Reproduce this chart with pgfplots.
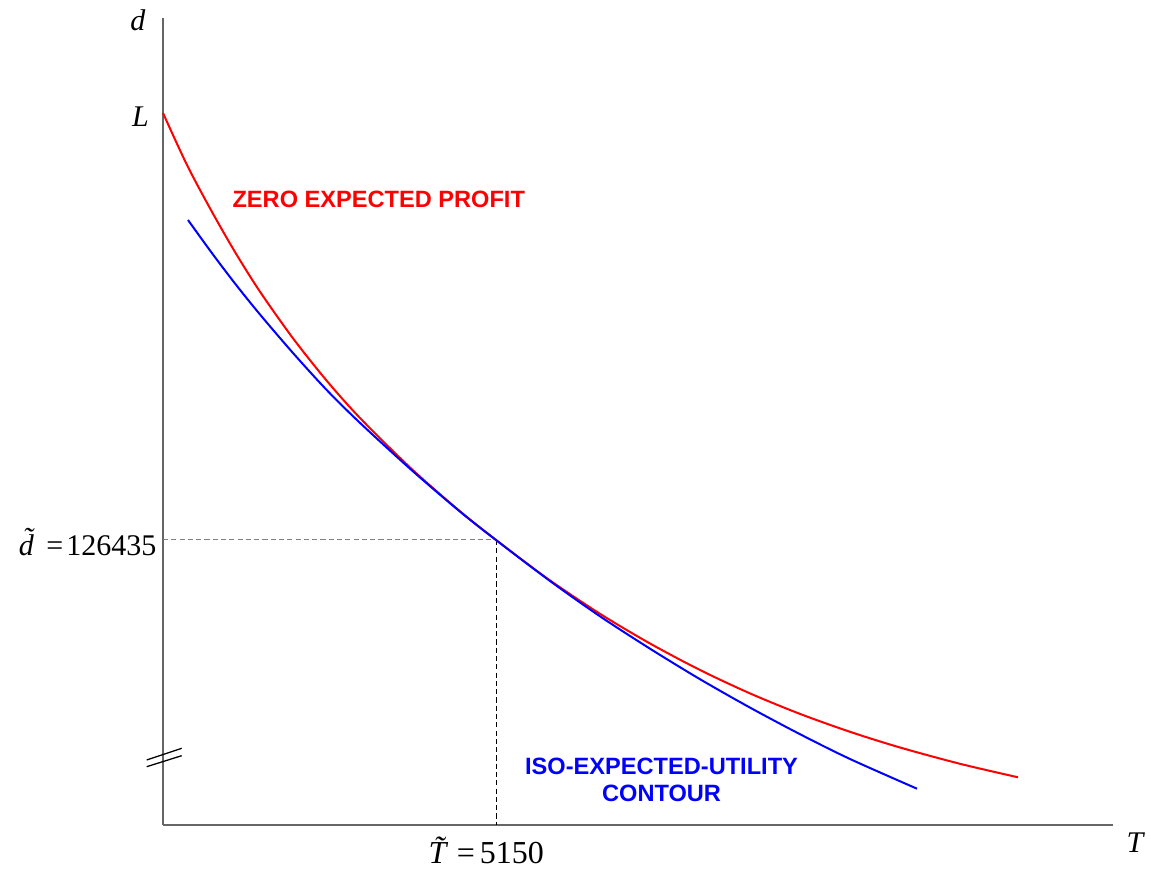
\documentclass[border=0pt]{standalone}
\usepackage{fontspec}
\setmainfont{Liberation Serif}
\newfontfamily\arialb{Liberation Sans}
\usepackage{pgfplots}
\pgfplotsset{compat=1.18}
\definecolor{zred}{RGB}{255,0,0}
\definecolor{zblue}{RGB}{0,0,255}
\begin{document}
\begin{tikzpicture}
\begin{axis}[
  width=332.5pt, height=282.45pt, scale only axis,
  xmin=0, xmax=14692, ymin=0, ymax=358009,
  axis x line*=bottom, axis y line*=left,
  axis line style={black!60, line width=0.5pt},
  ticks=none, clip=false,
]
% bounding box of the whole figure
\path (axis cs:-2521,365995) rectangle (axis cs:15280,-21294);
% guide lines
\addplot[gray, dash pattern=on 1.8pt off 1.1pt, line width=0.35pt] coordinates {(0,126435) (5150,126435)};
\addplot[black, dash pattern=on 1.8pt off 1.1pt, line width=0.35pt] coordinates {(5150,126435) (5150,0)};
% axis break
\addplot[black, line width=0.45pt] coordinates {(-252,28836) (289,34026)};
\addplot[black, line width=0.45pt] coordinates {(-252,25864) (289,30744)};
% zero expected profit
\addplot[zred, line width=0.7pt, smooth] coordinates {
(0,315865) (371.2,292796) (750.1,272389) (1113.5,254200) (1500.2,236588)
(2010.5,215915) (2531.7,197105) (3046.7,180557) (3835.4,158198) (4593.3,139167)
(5150,126435) (5954.2,109133) (6758.4,93695) (7531.7,80519) (8304.9,68763)
(9078.2,58382) (9851.5,49287) (10624.8,41346) (11398.1,34381) (12326.0,27150)
(13223.0,21161)};
% iso expected utility
\addplot[zblue, line width=0.7pt, smooth] coordinates {
(386.6,268396) (750.1,253978) (1113.5,240226) (1500.2,226473) (2010.5,209393)
(2531.7,192979) (3046.7,178384) (3835.4,157666) (4593.3,139034) (5150,126435)
(5985.1,108246) (6758.4,92586) (7531.7,78212) (8304.9,64681) (9078.2,52082)
(9851.5,40282) (10624.8,29280) (11661,16104)};
% labels
\node[anchor=base, inner sep=0, font=\fontsize{10.5}{12}\selectfont\itshape] at (axis cs:-387,352686) {d};
\node[anchor=base, inner sep=0, font=\fontsize{10.5}{12}\selectfont\itshape] at (axis cs:-348,310097) {L};
\node[anchor=base, inner sep=0, font=\fontsize{10.5}{12}\selectfont\itshape] at (axis cs:15032,-12422) {T};
\node[anchor=base east, inner sep=0, font=\fontsize{10.5}{12}\selectfont] at (axis cs:-93,119780) {{\itshape\~{d}}\hspace{0.42em}=\hspace{0.1em}126435};
\node[anchor=base west, inner sep=0, font=\fontsize{11.2}{13}\selectfont] at (axis cs:4098,-17302) {{\itshape\~{T}}\hspace{0.33em}=\hspace{0.15em}5150};
\node[anchor=base west, inner sep=0, text=zred, font=\fontsize{8.26}{9.6}\selectfont\arialb\bfseries] at (axis cs:1067,273853) {ZERO EXPECTED PROFIT};
\node[anchor=base, inner sep=0, text=zblue, font=\fontsize{8.26}{9.6}\selectfont\arialb\bfseries] at (axis cs:7710,22492) {ISO-EXPECTED-UTILITY};
\node[anchor=base, inner sep=0, text=zblue, font=\fontsize{8.26}{9.6}\selectfont\arialb\bfseries] at (axis cs:7710,10337) {CONTOUR};
\end{axis}
\end{tikzpicture}
\end{document}
